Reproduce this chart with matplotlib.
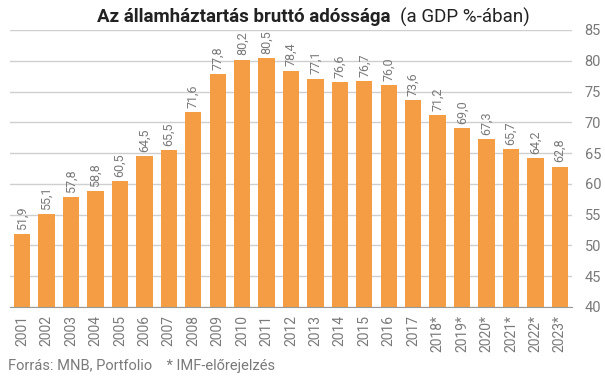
import matplotlib.pyplot as plt
import numpy as np

years = ['2001', '2002', '2003', '2004', '2005', '2006', '2007', '2008', '2009', '2010', '2011',
         '2012', '2013', '2014', '2015', '2016', '2017', '2018*', '2019*', '2020*', '2021*',
         '2022*', '2023*']
debt = [51.9, 55.1, 57.8, 58.8, 60.5, 64.5, 65.5, 71.6, 77.8, 80.2, 80.5,
        78.4, 77.1, 76.6, 76.7, 76.0, 73.6, 71.2, 69.0, 67.3, 65.7, 64.2, 62.8]
yticks = [40, 45, 50, 55, 60, 65, 70, 75, 80, 85]

plt.rcParams['font.family'] = ['Roboto', 'DejaVu Sans']
bar_color = '#F59D45'
gray = '#7a7a7a'

fig = plt.figure(figsize=(6.05, 3.78), dpi=100)
ax = fig.add_axes([10 / 605, 1 - 307 / 378, 562 / 605, 277 / 378])

x = np.arange(len(years))
ax.bar(x, debt, width=0.67, color=bar_color, zorder=2)
for xi, v in zip(x, debt):
    ax.annotate(f'{v:.1f}'.replace('.', ','), (xi, v), xytext=(0, 3), textcoords='offset points',
                rotation=90, ha='center', va='bottom', fontsize=9, color=gray)

ax.set_ylim(40, 85)
ax.set_xlim(-0.5, len(years) - 0.5)
ax.set_yticks(yticks)
ax.yaxis.tick_right()
ax.tick_params(axis='y', length=0, pad=9, labelsize=10.5, labelcolor=gray)
ax.set_xticks(x)
ax.set_xticklabels(years, rotation=90)
ax.tick_params(axis='x', length=0, pad=6, labelsize=10, labelcolor=gray)
ax.grid(axis='y', color='#cfcfcf', linewidth=1, zorder=0)
for s in ['top', 'left', 'right']:
    ax.spines[s].set_visible(False)
ax.spines['bottom'].set_color('#999999')

t1 = fig.text(97 / 605, 1 - 17 / 378, 'Az államháztartás bruttó adóssága', fontsize=13.5,
              fontweight='bold', color='#222222', ha='left', va='center')
fig.canvas.draw()
bb = t1.get_window_extent()
fig.text((bb.x1 + 9) / 605, 1 - 17 / 378, '(a GDP %-ában)', fontsize=13.5,
         color='#222222', ha='left', va='center')

fig.text(8 / 605, 1 - 366 / 378, 'Forrás: MNB, Portfolio    * IMF-előrejelzés', fontsize=10.5,
         color=gray, ha='left', va='center')

fig.savefig('out.png', dpi=100)
